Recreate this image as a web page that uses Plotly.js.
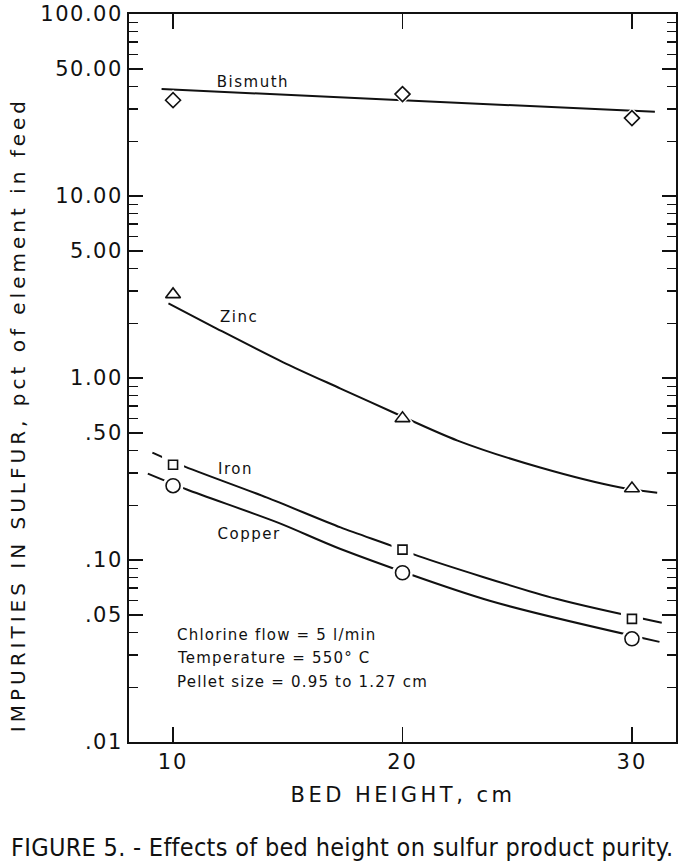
<!DOCTYPE html>
<html>
<head>
<meta charset="utf-8">
<script src="https://cdn.plot.ly/plotly-3.0.1.min.js"></script>
<style>
  html, body { margin: 0; padding: 0; background: #fff; }
  #chart { width: 681px; height: 865px; }
  #chart .ytick text { letter-spacing: 1.5px; }
  #chart .xtick text { letter-spacing: 2px; }
  #chart .annotation[data-index="0"] text,
  #chart .annotation[data-index="1"] text,
  #chart .annotation[data-index="2"] text,
  #chart .annotation[data-index="3"] text { letter-spacing: 1.5px; }
  #chart .annotation[data-index="4"] text,
  #chart .annotation[data-index="5"] text,
  #chart .annotation[data-index="6"] text { letter-spacing: 1.2px; }
  #chart .annotation[data-index="7"] text { letter-spacing: 3.5px; }
  #chart .annotation[data-index="8"] text { letter-spacing: 4px; }
  #chart .annotation[data-index="9"] text { letter-spacing: 0.3px; }
</style>
</head>
<body>
<div id="chart"></div>
<script>
// ---- data ----
const bedHeight = [10, 20, 30];

const bismuthPts = [33.6, 36.3, 26.8];
const zincPts    = [2.88, 0.60, 0.247];
const ironPts    = [0.334, 0.114, 0.0475];
const copperPts  = [0.256, 0.0851, 0.0369];

// hand-drawn curves
const bismuthCurveX = [9.5, 20, 31.0];
const bismuthCurveY = [38.7, 33.6, 29.0];
const zincCurveX = [9.8, 11.9, 14.8, 17.3, 19.7, 22.4, 26.0, 29.5, 31.1];
const zincCurveY = [2.57, 1.87, 1.22, 0.875, 0.638, 0.453, 0.322, 0.25, 0.234];
const ironCurveX = [9.1, 10.4, 14.1, 17.3, 19.5, 20.7, 26.7, 31.3];
const ironCurveY = [0.389, 0.330, 0.220, 0.151, 0.120, 0.105, 0.0612, 0.0452];
const copperCurveX = [8.9, 10.6, 14.6, 17.3, 23.8, 31.2];
const copperCurveY = [0.298, 0.244, 0.160, 0.115, 0.0597, 0.0355];

const yTickVals = [0.01, 0.05, 0.1, 0.5, 1, 5, 10, 50, 100];
const yTickText = ['.01', '.05', '.10', '.50', '1.00', '5.00', '10.00', '50.00', '100.00'];
const xTickVals = [10, 20, 30];
const xTickText = ['10', '20', '30'];

const seriesLabels = ['Bismuth', 'Zinc', 'Iron', 'Copper'];
const conditions = ['Chlorine flow = 5 l/min', 'Temperature = 550° C', 'Pellet size = 0.95 to 1.27 cm'];
const xTitle = 'BED HEIGHT, cm';
const yTitle = 'IMPURITIES IN SULFUR, pct of element in feed';
const caption = 'FIGURE 5. - Effects of bed height on sulfur product purity.';

// minor ticks: 2..9 of each decade (5s are labelled major ticks)
const minorVals = [];
[0.01, 0.1, 1, 10].forEach(d => { for (let k = 2; k <= 9; k++) if (k !== 5) minorVals.push(+(k * d).toPrecision(3)); });

// ---- traces ----
const ink = '#111';
function curve(x, y) {
  return { x: x, y: y, type: 'scatter', mode: 'lines', line: { color: ink, width: 2, shape: 'spline', smoothing: 0.8 }, hoverinfo: 'skip', showlegend: false };
}
function halo(y, symbol, size) {
  return { x: bedHeight, y: y, type: 'scatter', mode: 'markers', marker: { symbol: symbol, size: size, color: '#fff', line: { width: 0 } }, hoverinfo: 'skip', showlegend: false };
}
function pts(y, symbol, size, name) {
  return { x: bedHeight, y: y, name: name, type: 'scatter', mode: 'markers', marker: { symbol: symbol, size: size, color: ink, line: { color: ink, width: 1.6 } }, showlegend: false };
}

const traces = [
  curve(bismuthCurveX, bismuthCurveY),
  curve(zincCurveX, zincCurveY),
  curve(ironCurveX, ironCurveY),
  curve(copperCurveX, copperCurveY),
  halo(bismuthPts, 'diamond', 16),
  halo(zincPts, 'triangle-up', 20),
  halo(ironPts, 'square', 22),
  halo(copperPts, 'circle', 21),
  pts(bismuthPts, 'diamond-open', 11.5, seriesLabels[0]),
  pts(zincPts, 'triangle-up-open', 13, seriesLabels[1]),
  pts(ironPts, 'square-open', 9, seriesLabels[2]),
  pts(copperPts, 'circle-open', 14, seriesLabels[3])
];

const fam = 'DejaVu Sans, sans-serif';
const tickFont = { family: fam, size: 21, color: ink };
const labFont = { family: fam, size: 15, color: ink };

const annotations = [
  { text: seriesLabels[0], x: 0.2267, y: 0.9066 },
  { text: seriesLabels[1], x: 0.201, y: 0.5838 },
  { text: seriesLabels[2], x: 0.1938, y: 0.375 },
  { text: seriesLabels[3], x: 0.2194, y: 0.2857 }
].map(a => Object.assign({ xref: 'paper', yref: 'paper', showarrow: false, xanchor: 'center', yanchor: 'middle', font: labFont }, a));

conditions.forEach((t, i) => {
  annotations.push({ text: t, xref: 'paper', yref: 'paper', x: 0.0859, y: [0.147, 0.1154, 0.0824][i], xanchor: 'left', yanchor: 'middle', align: 'left', borderpad: 0, showarrow: false, font: { family: fam, size: 15, color: ink } });
});
annotations.push({ text: xTitle, xref: 'paper', yref: 'paper', x: 0.5, y: -0.0728, xanchor: 'center', yanchor: 'middle', showarrow: false, font: { family: fam, size: 21, color: ink } });
annotations.push({ text: yTitle, xref: 'paper', yref: 'paper', x: -0.2029, y: 0.449, xanchor: 'center', yanchor: 'middle', textangle: -90, showarrow: false, font: { family: fam, size: 20, color: ink } });
annotations.push({ text: caption, xref: 'paper', yref: 'paper', x: 0.389, y: -0.1456, xanchor: 'center', yanchor: 'middle', showarrow: false, font: { family: 'DejaVu Sans Condensed, Liberation Sans Narrow, sans-serif', size: 25, color: ink } });

const layout = {
  width: 681, height: 865,
  margin: { l: 129, r: 5, t: 14, b: 123 },
  paper_bgcolor: '#fff', plot_bgcolor: '#fff',
  showlegend: false,
  xaxis: {
    range: [8.08, 31.92], tickmode: 'array', tickvals: xTickVals, ticktext: xTickText,
    ticks: 'inside', ticklen: 15, tickwidth: 1.6, tickcolor: ink,
    showline: true, linecolor: ink, linewidth: 2, mirror: 'ticks',
    showgrid: false, zeroline: false, tickfont: tickFont, automargin: false
  },
  yaxis: {
    type: 'log', range: [-2, 2], tickmode: 'array', tickvals: yTickVals, ticktext: yTickText,
    ticks: 'inside', ticklen: 14, tickwidth: 1.6, tickcolor: ink,
    minor: { tickmode: 'array', tickvals: minorVals, ticks: 'inside', ticklen: 9, tickwidth: 1.4, tickcolor: ink, showgrid: false },
    showline: true, linecolor: ink, linewidth: 2, mirror: 'ticks',
    showgrid: false, zeroline: false, tickfont: tickFont, automargin: false
  },
  annotations: annotations
};

Plotly.newPlot('chart', traces, layout, { staticPlot: true, displayModeBar: false });
</script>
</body>
</html>
